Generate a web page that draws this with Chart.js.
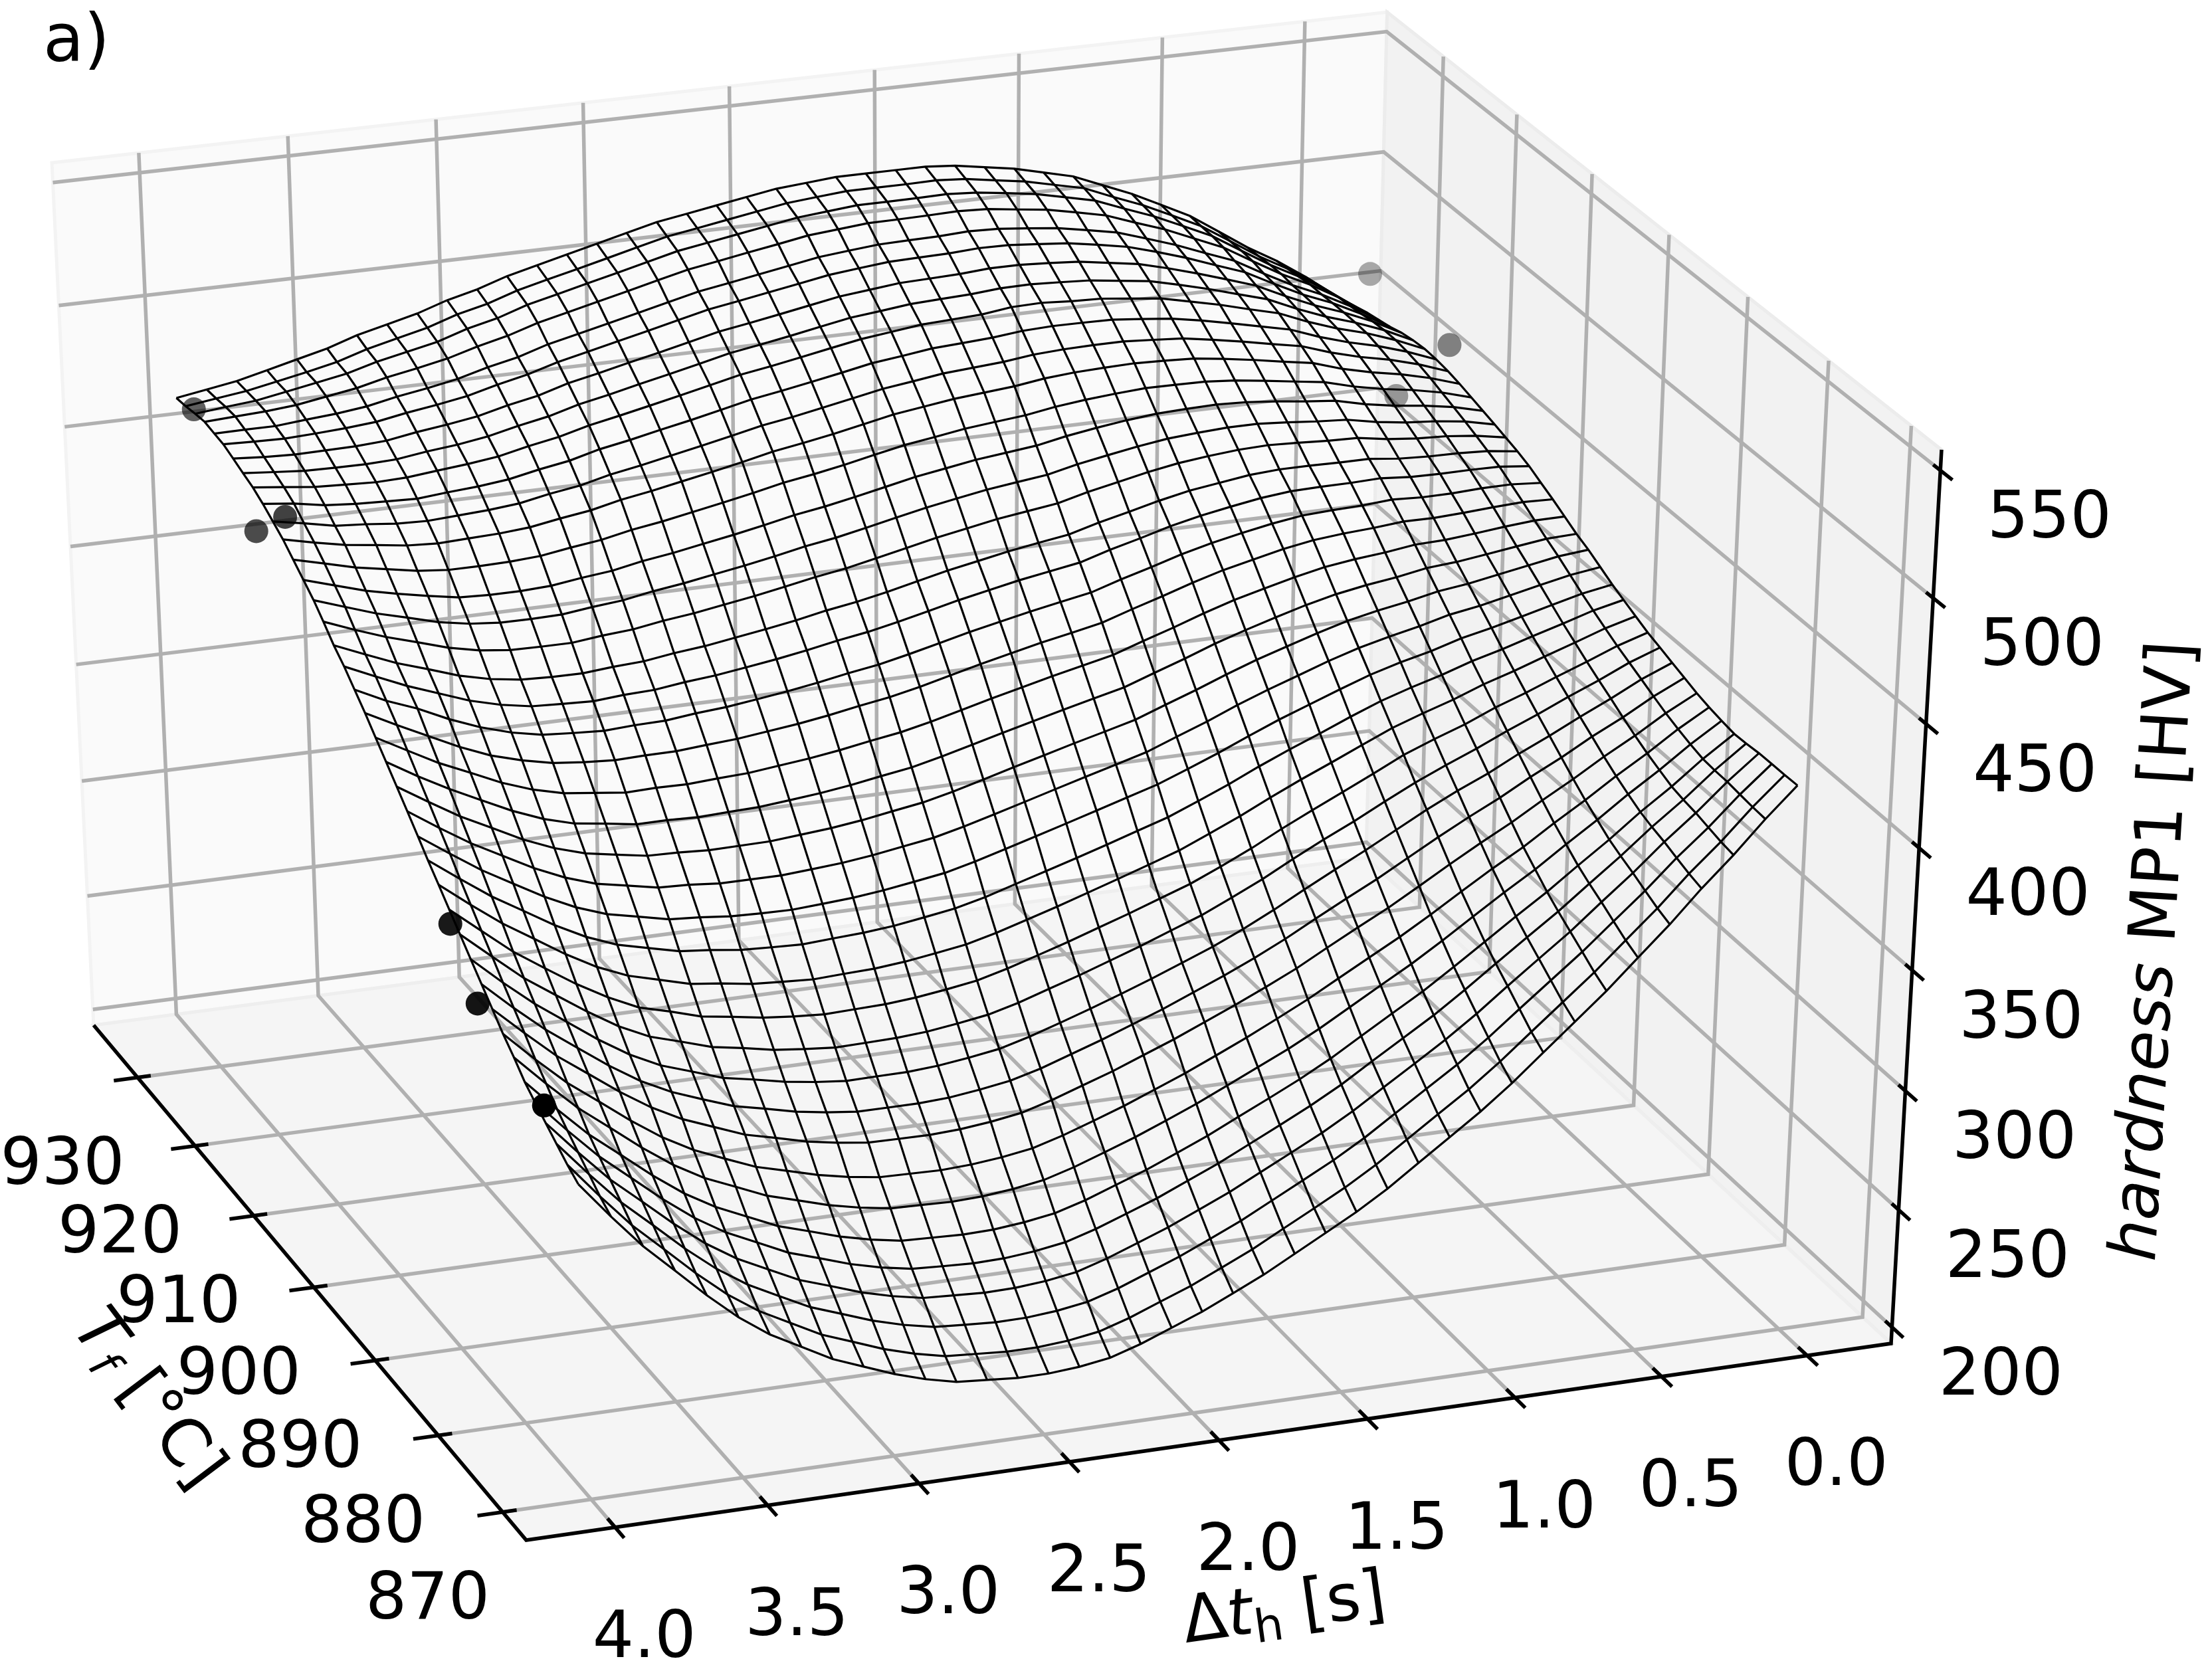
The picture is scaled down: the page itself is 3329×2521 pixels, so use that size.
<!DOCTYPE html>
<html>
<head>
<meta charset="utf-8">
<title>hardness MP1</title>
<script src="https://cdn.jsdelivr.net/npm/chart.js@4/dist/chart.umd.js"></script>
<style>
  html, body { margin: 0; padding: 0; background: #fff; }
  canvas { display: block; }
</style>
</head>
<body>
<canvas id="chart" width="3329" height="2521"></canvas>
<script>
/***** DATA *****/

const dtTicks = [0.0, 0.5, 1.0, 1.5, 2.0, 2.5, 3.0, 3.5, 4.0]
const tempTicks = [870, 880, 890, 900, 910, 920, 930]
const hardTicks = [200, 250, 300, 350, 400, 450, 500, 550]

const dtGrid = [0, 0.103, 0.205, 0.308, 0.41, 0.513, 0.615, 0.718, 0.821, 0.923, 1.026, 1.128, 1.231, 1.333, 1.436, 1.538, 1.641, 1.744, 1.846, 1.949, 2.051, 2.154, 2.256, 2.359, 2.462, 2.564, 2.667, 2.769, 2.872, 2.974, 3.077, 3.179, 3.282, 3.385, 3.487, 3.59, 3.692, 3.795, 3.897, 4]
const tempGrid = [871, 872.6, 874.2, 875.8, 877.4, 878.9, 880.5, 882.1, 883.7, 885.3, 886.9, 888.5, 890.1, 891.7, 893.3, 894.8, 896.4, 898, 899.6, 901.2, 902.8, 904.4, 906, 907.6, 909.2, 910.7, 912.3, 913.9, 915.5, 917.1, 918.7, 920.3, 921.9, 923.5, 925.1, 926.6, 928.2, 929.8, 931.4, 933]

// one row per tempGrid entry, one column per dtGrid entry
const hardness = [
  [417,405,392,380,367,355,343,332,321,310,300,291,282,273,265,258,251,244,238,232,227,222,218,216,215,215,216,217,220,224,229,234,241,248,257,268,280,292,306,321],
  [416.8,405.4,392.9,381.5,369,357.5,346,335.4,324.8,314.2,304.4,295.7,286.9,278.1,270.3,263.4,256.6,249.7,243.8,237.9,233,228,224,222,221,221,221.9,222.8,225.7,229.5,234.4,239.2,246,252.8,261.5,272.2,283.9,295.6,309.3,324],
  [416.8,406,394.2,383.4,371.6,360.7,349.8,339.7,329.6,319.4,309.9,301.5,293,284.5,276.9,270.2,263.5,256.8,251,245.3,240.4,235.5,231.6,229.6,228.5,228.4,229.2,230.1,232.8,236.4,241.1,245.7,252.2,258.8,267.2,277.5,288.9,300.2,313.5,327.7],
  [416.7,406.7,395.6,385.4,374.3,364,353.5,344,334.4,324.6,315.5,307.3,299.1,290.9,283.5,277,270.5,264,258.3,252.7,247.9,243.1,239.2,237.2,236.1,235.9,236.6,237.3,239.9,243.3,247.8,252.1,258.4,264.7,272.8,282.8,293.8,304.7,317.6,331.4],
  [416.2,406.9,396.5,387,376.7,367,357.2,348.2,339,329.8,321,313.1,305.2,297.2,290.1,283.7,277.4,271.1,265.6,260,255.3,250.6,246.8,244.8,243.6,243.3,243.9,244.6,247,250.2,254.5,258.6,264.7,270.7,278.5,288.1,298.7,309.3,321.8,335.2],
  [416,407.4,397.7,388.9,379.2,370.2,361,352.5,343.7,335,326.5,319,311.3,303.6,296.7,290.5,284.4,278.2,272.8,267.4,262.8,258.1,254.4,252.4,251.1,250.8,251.3,251.8,254.1,257.1,261.2,265.1,270.9,276.7,284.1,293.4,303.6,313.8,325.9,338.9],
  [416.9,408.9,400,391.7,382.8,374.4,365.7,357.8,349.5,341.2,333.2,326,318.6,311.3,304.6,298.7,292.7,286.8,281.5,276.3,271.7,267.2,263.5,261.5,260.2,259.7,260.1,260.5,262.6,265.4,269.2,272.9,278.4,283.9,291.1,300.1,310,319.9,331.6,344.2],
  [418,410.7,402.4,394.7,386.4,378.6,370.4,363.1,355.3,347.4,339.8,332.9,325.9,318.9,312.5,306.3,300.5,294.8,289.7,284.6,280.1,275.7,272,270,268.7,268.1,268.4,268.7,270.6,273.2,276.7,280.1,285.3,290.7,297.7,306.4,316,325.5,336.8,349],
  [419.4,412.8,405.2,398.2,390.6,383.5,376,369.2,362,354.6,347.3,340.8,334,327.1,321,315.3,309.8,304.3,299.4,294.4,290.1,285.7,282.1,280.1,278.7,278.1,278.2,278.4,280.1,282.3,285.6,288.7,293.7,298.7,305.3,313.5,322.7,331.9,342.9,354.5],
  [421.3,415.3,408.3,402,395,388.6,381.7,375.4,368.7,361.7,354.6,348.2,341.5,334.7,328.5,322.8,317.5,312.2,307.5,302.8,298.5,294.2,290.8,288.8,287.2,286.5,286.5,286.5,288,290,293,295.8,300.4,305.2,311.5,319.6,328.7,337.9,348.5,360],
  [423.1,417.9,411.6,405.7,399.5,393.7,387.3,381.7,375.5,368.8,362,355.6,349,342.2,335.9,330.2,325.2,320.2,315.6,311.1,306.9,302.8,299.4,297.4,295.8,294.9,294.8,294.6,295.9,297.7,300.4,302.8,307.2,311.5,317.7,325.7,334.7,343.8,354.2,365.5],
  [425,420.4,414.7,409.5,403.9,398.7,393,387.8,382.2,376,369.5,363.5,357.1,350.4,344.4,338.7,334,329.2,324.8,320.4,316.4,312.3,309,307,305.3,304.4,304.1,303.8,304.9,306.3,308.8,310.9,314.9,318.7,324.7,332.5,341,349.7,360.2,371],
  [426.8,422.9,418,413.3,408.4,403.9,398.6,394.1,389.2,383.1,377.1,371.2,365.1,358.6,352.7,347.2,342.7,338.2,334,329.7,325.8,321.9,318.6,316.6,314.9,313.8,313.4,313,313.8,315,317.1,318.9,322.7,326.1,332,339.2,347.4,355.9,366.1,376.5],
  [429.2,425.8,421.5,417.3,413,409.1,404.4,400.3,395.9,390.4,384.8,379.4,373.6,367.5,361.9,356.5,352.2,348,343.9,339.8,336,332.2,329,327,325.2,324,323.5,322.9,323.6,324.4,326.3,327.8,331.2,334.6,339.9,346.9,354.9,362.9,372.2,382.1],
  [431.6,428.8,425,421.4,417.6,414.3,410.2,406.6,402.6,397.7,392.4,387.4,382,376.2,370.9,365.8,361.8,357.7,353.8,350,346.3,342.5,339.4,337.4,335.5,334.3,333.6,332.8,333.3,333.9,335.5,336.7,339.7,342.8,347.7,354.2,361.8,369.4,378.2,387.5],
  [433.9,431.7,428.6,425.4,422.3,419.6,415.9,412.9,409.3,404.9,400.2,395.6,390.4,385,380,375.2,371.4,367.6,363.9,360.2,356.6,353,349.9,347.9,346,344.6,343.7,342.9,343.1,343.5,344.8,345.6,348.4,351.1,355.6,361.6,368.7,375.9,384.3,393],
  [436.8,435.1,432.5,429.8,427.1,425,421.8,419.1,416,412.2,407.8,403.5,398.8,393.6,388.9,384.1,380.6,377.1,373.6,370,366.5,363,360,358,356,354.5,353.5,352.6,352.6,352.6,353.7,354.2,356.7,359.1,363.3,368.9,375.6,382.4,390.3,398.7],
  [439.7,438.5,436.3,434.1,431.9,430.3,427.7,425.5,422.8,419.3,415.4,411.5,407,402.2,397.7,393.1,389.8,386.6,383.2,379.9,376.4,373,370.1,368.1,366,364.4,363.3,362.2,362,361.8,362.5,362.8,364.9,367.1,370.9,376.1,382.5,388.9,396.4,404.3],
  [442,441.5,439.9,438.2,436.6,435.6,433.4,431.7,429.5,426.6,423.1,419.4,415.4,410.8,406.5,402.1,399.1,396,392.9,389.7,386.4,383.1,380.2,378.2,376.1,374.4,373.1,371.9,371.5,370.9,371.4,371.3,373.2,374.9,378.4,383.4,389.4,395.6,402.4,409.9],
  [444.9,444.8,443.8,442.5,441.4,441,439.3,438.1,436.4,433.8,430.7,427.5,423.6,419.3,415.3,411.1,408.3,405.5,402.5,399.5,396.3,393.1,390.3,388.3,386.1,384.3,382.9,381.5,380.9,380.1,380.3,379.9,381.4,382.9,386,390.5,396.2,401.8,408.5,415.4],
  [447.8,448.2,447.6,446.8,446.2,446.3,445.2,444.4,443.2,441.1,438.3,435.5,431.9,427.9,424.1,420.1,417.5,415,412.2,409.3,406.2,403.1,400.4,398.4,396.1,394.2,392.7,391.2,390.3,389.3,389.2,388.8,389.6,390.9,393.6,397.2,402.3,408.4,414.5,421],
  [450.4,451.3,451.2,450.6,450.5,451.1,450.2,449.8,449.1,447.3,445,442.4,439.3,435.6,432.1,428.2,425.9,423.5,420.9,418.2,415.2,412.2,409.5,407.5,405.2,403.2,401.5,399.9,398.9,397.5,397.2,396.5,397.2,398.1,400.6,404.4,409.3,415.2,420,426.1],
  [453.1,454.4,454.6,454.5,454.7,455.7,455.3,455.2,454.9,453.6,451.6,449.4,446.6,443.2,440,436.3,434.2,432.1,429.6,427,424.1,421.2,418.6,416.6,414.2,412.1,410.3,408.6,407.4,405.8,405.3,404.3,404.8,405.4,407.6,410.9,415.5,420.1,425.5,431.2],
  [455.1,456.7,457.3,457.5,458.1,459.5,459.5,459.7,459.7,458.9,457.2,455.5,452.9,449.9,447,443.6,441.7,439.7,437.3,434.9,432.1,429.2,426.7,424.7,422.2,420.1,418.2,416.3,415,413.2,412.5,411.4,411.5,412,413.8,416.8,421,425.1,430.2,435.5],
  [456.7,458.9,460.2,460.8,462,464,464.3,465,465.5,465.1,464,462.6,460.5,457.9,455.3,452.2,450.5,448.8,446.5,444.2,441.5,438.8,436.2,434.2,431.8,429.5,427.5,425.5,424,422,421,419.6,419.6,419.8,421.2,423.9,427.7,431.4,435.9,440.8],
  [458.2,460.9,462.5,463.5,465.2,467.6,468.4,469.5,470.4,470.4,469.7,468.8,467.1,465,462.8,460,458.5,456.9,454.8,452.6,450,447.3,444.8,442.8,440.3,438,435.9,433.8,432.1,429.9,428.7,427.2,426.9,427,428.1,430.3,433.7,437,441.2,445.5],
  [459.7,462.8,464.8,466.3,468.4,471.3,472.5,474,475.2,475.7,475.4,474.9,473.7,472.1,470.2,467.8,466.4,465,463,461,458.4,455.8,453.4,451.4,448.8,446.4,444.2,442,440.2,437.8,436.4,434.7,434.1,434.1,434.6,436.8,439.2,442,445.7,449.5],
  [461.2,464.7,467.2,469.1,471.6,474.9,476.6,478.4,480,481,481.2,481.3,480.5,479.5,478.1,476.1,474.9,473.6,471.7,469.9,467.4,464.8,462.5,460.5,457.8,455.4,453,450.7,448.8,446.2,444.6,442.7,441.9,441.6,441.6,442.8,445,447.2,450.4,453.5],
  [462.7,466.6,469.6,471.9,474.8,478.7,480.7,482.9,484.8,486.4,487,487.4,487.1,486.6,485.6,483.9,482.8,481.7,480,478.3,475.8,473.3,471.1,469.1,466.3,463.8,461.4,459,456.9,454.1,452.3,450.2,449.2,448.7,448.2,448.9,450.6,452.2,454.7,457.5],
  [463.9,468.2,471.6,474.2,477.5,481.6,483.9,486.4,488.6,490.6,491.5,492.3,492.3,492,491.3,489.8,488.9,488,486.3,484.7,482.3,479.9,477.6,475.6,472.9,470.3,467.8,465.3,463.1,460.1,458.2,455.8,454.6,453.9,453.2,453.6,454.9,455.8,458.3,460.6],
  [464.7,469.4,473.2,476.2,479.9,484.4,487.1,489.9,492.5,494.7,496,497.2,497.4,497.5,497,495.7,494.9,494.2,492.6,491.1,488.7,486.4,484.2,482.2,479.4,476.7,474.2,471.6,469.3,466.1,464,461.5,460.1,459.2,458.1,458.5,459,460,462.2,463.6],
  [465,470.2,474.5,477.9,482.1,487.1,490.2,493.5,496.3,499,500.4,501.8,502.2,503,502.7,501.1,500.5,499.9,498.4,496.9,494.7,492.4,490.2,488.2,485.4,482.7,480,477.4,474.9,471.7,469.4,466.7,465.1,463.9,462.6,462.2,462.7,463.3,464.7,466.1],
  [464.6,470.3,474.9,478.8,483.5,488.9,492.4,496,499.2,502.1,503.7,505.3,506,506.6,506.4,505.4,504.9,504.3,502.9,501.6,499.4,497.1,495,493,490.1,487.4,484.7,481.9,479.4,476,473.6,470.8,468.9,467.6,465.9,465.4,465.5,465.7,466.7,467.8],
  [463.7,469.9,475.1,479.5,484.7,490.5,494.5,498.4,502,505.2,507.1,509,509.9,510.6,510.6,509.7,509.3,508.9,507.6,506.3,504.1,501.9,499.8,497.8,494.9,492.1,489.4,486.6,484,480.4,477.9,474.9,473,471.4,469.4,468.6,468.4,468.2,468.7,469.6],
  [462.2,469.1,475,479.9,485.8,492.1,496.4,500.9,504.8,508.3,510.6,512.6,513.7,514.7,514.9,514.2,513.9,513.6,512.4,511.1,509,506.9,504.8,502.8,499.9,497,494.2,491.4,488.6,485,482.3,479.1,477,475.2,473,471.9,471.2,470.6,470.9,471.3],
  [461.2,468.5,474.8,480.1,486.4,493.1,497.7,502.5,506.6,510.5,512.9,515.1,516.5,517.7,518.1,517.5,517.3,517,515.9,514.7,512.6,510.5,508.4,506.4,503.5,500.6,497.7,494.9,492.1,488.3,485.6,482.3,480,478,475.5,474,473,471.9,471.9,471.8],
  [460.2,468.1,474.9,480.8,487.6,494.7,499.8,505,509.2,513.6,516.3,518.8,520.3,521.9,522.4,522.1,521.9,521.8,520.7,519.6,517.5,515.5,513.4,511.4,508.5,505.5,502.6,499.7,496.8,493,490.1,486.6,484.1,481.8,478.9,476.9,474.9,473.8,473.2,472.5],
  [458.6,467,474.3,480.7,488,495.5,501,506.5,511.1,515.8,518.6,521.3,523.1,524.7,525.5,525.3,525.2,525.2,524.1,523,521,519,517,515,512,509,506.1,503.1,500.2,496.2,493.3,489.4,486.8,484.2,480.8,478.5,476.3,474.1,473,471.7],
  [457.3,466,473.6,480.3,488,495.7,501.5,507.2,512,517,519.8,522.6,524.5,526.4,527.3,527.1,527.1,527.1,526.1,525,523,521,519,517,514,511,508,505.1,502.1,498.1,495.2,491.2,488.3,485.3,481.5,478.8,476.4,474,472.4,470.7],
  [456,465,473,480,488,496,502,508,513,518,521,524,526,528,529,529,529,529,528,527,525,523,521,519,516,513,510,507,504,500,497,493,490,487,483,480,477,474,472,470]
]

// measured samples
const sampleDt = [0, 0, 0, 4, 4, 4, 4, 4, 4]
const sampleTemp = [928, 924, 917, 930, 920, 915, 890, 886, 876]
const sampleHard = [477, 436, 475, 473, 449, 468, 371, 350, 338]
const sampleAlpha = [0.33, 0.38, 0.47, 0.62, 0.7, 0.74, 0.9, 0.92, 1]

/***** AXIS BOX *****/

const dtLim = [-0.29, 4.29]
const tempLim = [866.4, 937.8]
const hardLim = [193, 558]

// perspective of the box, unit cube -> canvas pixels
const PROJ = [
  [-2077.7, -619.9, -70.1, 2846],
  [226.8, -624.2, -1378.9, 2022],
  [-0.02987, 0.08274, -0.05, 1]
]

const unit = (val, lim) => (val - lim[0]) / (lim[1] - lim[0])

const toCanvas = (u, v, w) => {
  const h = PROJ[2][0] * u + PROJ[2][1] * v + PROJ[2][2] * w + PROJ[2][3]
  return {
    x: (PROJ[0][0] * u + PROJ[0][1] * v + PROJ[0][2] * w + PROJ[0][3]) / h,
    y: (PROJ[1][0] * u + PROJ[1][1] * v + PROJ[1][2] * w + PROJ[1][3]) / h
  }
}

const project = (dt, temp, hard) => toCanvas(unit(dt, dtLim), unit(temp, tempLim), unit(hard, hardLim))

/***** DATASETS *****/

const datasets = []

const addLine = (points, color, width) => {
  datasets.push({
    data: points,
    showLine: true,
    borderColor: color,
    borderWidth: width,
    pointRadius: 0,
    tension: 0,
    fill: false
  })
}

const addPane = (corners, fillColor, edgeColor) => {
  datasets.push({
    data: corners.map((c) => toCanvas(c[0], c[1], c[2])),
    showLine: true,
    borderColor: edgeColor,
    borderWidth: 5,
    backgroundColor: fillColor,
    pointRadius: 0,
    tension: 0,
    fill: 'shape'
  })
}

addPane([[1, 1, 0], [0, 1, 0], [0, 1, 1], [1, 1, 1], [1, 1, 0]], '#fafafa', '#f3f3f3')
addPane([[0, 1, 0], [0, 0, 0], [0, 0, 1], [0, 1, 1], [0, 1, 0]], '#f2f2f2', '#ececec')
addPane([[1, 0, 0], [0, 0, 0], [0, 1, 0], [1, 1, 0], [1, 0, 0]], '#f5f5f5', '#eeeeee')

const GRID = '#b0b0b0'
dtTicks.forEach((t) => {
  const u = unit(t, dtLim)
  addLine([toCanvas(u, 0, 0), toCanvas(u, 1, 0), toCanvas(u, 1, 1)], GRID, 5.5)
})
tempTicks.forEach((T) => {
  const v = unit(T, tempLim)
  addLine([toCanvas(1, v, 0), toCanvas(0, v, 0), toCanvas(0, v, 1)], GRID, 5.5)
})
hardTicks.forEach((z) => {
  const w = unit(z, hardLim)
  addLine([toCanvas(1, 1, w), toCanvas(0, 1, w), toCanvas(0, 0, w)], GRID, 5.5)
})

// samples behind the mesh
sampleDt.forEach((t, k) => {
  datasets.push({
    data: [project(t, sampleTemp[k], sampleHard[k])],
    pointRadius: 18,
    pointBorderWidth: 0,
    pointBackgroundColor: 'rgba(0,0,0,' + sampleAlpha[k] + ')'
  })
})

// wireframe
tempGrid.forEach((T, j) => {
  addLine(dtGrid.map((t, i) => project(t, T, hardness[j][i])), '#000', 3.2)
})
dtGrid.forEach((t, i) => {
  addLine(tempGrid.map((T, j) => project(t, T, hardness[j][i])), '#000', 3.2)
})

// axis lines and ticks
addLine([toCanvas(1, 1, 0), toCanvas(1, 0, 0), toCanvas(0, 0, 0), toCanvas(0, 0, 1)], '#000', 5.5)
dtTicks.forEach((t) => {
  const u = unit(t, dtLim)
  addLine([toCanvas(u, 0.016, 0), toCanvas(u, -0.019, 0)], '#000', 5.5)
})
tempTicks.forEach((T) => {
  const v = unit(T, tempLim)
  addLine([toCanvas(0.99, v, 0), toCanvas(1.018, v, 0)], '#000', 5.5)
})
hardTicks.forEach((z) => {
  const w = unit(z, hardLim)
  addLine([toCanvas(0, 0.012, w), toCanvas(0, -0.02, w)], '#000', 5.5)
})

// later datasets paint on top
datasets.forEach((d, k) => { d.order = datasets.length - k })

/***** TEXT *****/

const FONT = '"DejaVu Sans"'
const SIZE = 98

// pieces: [text, font style, scale, baseline shift]
const drawPieces = (ctx, pieces, cx, cy, degrees) => {
  ctx.save()
  ctx.translate(cx, cy)
  ctx.rotate(degrees * Math.PI / 180)
  ctx.textAlign = 'left'
  ctx.textBaseline = 'alphabetic'
  let total = 0
  pieces.forEach((p) => {
    ctx.font = p[1] + ' ' + (SIZE * p[2]) + 'px ' + FONT
    total += ctx.measureText(p[0]).width
  })
  let pos = -total / 2
  pieces.forEach((p) => {
    ctx.font = p[1] + ' ' + (SIZE * p[2]) + 'px ' + FONT
    ctx.fillText(p[0], pos, SIZE * 0.36 + p[3])
    pos += ctx.measureText(p[0]).width
  })
  ctx.restore()
}

const labelsPlugin = {
  id: 'labels3d',
  afterDraw: (chart) => {
    const ctx = chart.ctx
    ctx.fillStyle = '#000'
    dtTicks.forEach((t) => {
      const p = toCanvas(unit(t, dtLim), 0, 0)
      drawPieces(ctx, [[t.toFixed(1), 'normal', 1, 0]], p.x + 44, p.y + 160, 0)
    })
    tempTicks.forEach((T) => {
      const p = toCanvas(1, unit(T, tempLim), 0)
      drawPieces(ctx, [[String(T), 'normal', 1, 0]], p.x - 113, p.y + 125, 0)
    })
    hardTicks.forEach((z) => {
      const p = toCanvas(0, 0, unit(z, hardLim))
      drawPieces(ctx, [[String(z), 'normal', 1, 0]], p.x + 164, p.y + 66, 0)
    })
    drawPieces(ctx, [['hardness', 'italic', 1, 0], [' MP1 [HV]', 'normal', 1, 0]], 3236, 1431, -86.5)
    drawPieces(ctx, [['T', 'italic', 1, 0], ['f', 'italic', 0.7, 15], [' [°C]', 'normal', 1, 0]], 228, 2102, 53)
    drawPieces(ctx, [['Δ', 'normal', 1, 0], ['t', 'italic', 1, 0], ['h', 'normal', 0.7, 15], [' [s]', 'normal', 1, 0]], 1932, 2416, -8)
    ctx.font = '100px ' + FONT
    ctx.textAlign = 'left'
    ctx.textBaseline = 'alphabetic'
    ctx.fillText('a)', 65, 92)
  }
}

/***** CHART *****/

new Chart(document.getElementById('chart'), {
  type: 'scatter',
  data: { datasets: datasets },
  plugins: [labelsPlugin],
  options: {
    responsive: false,
    devicePixelRatio: 1,
    animation: false,
    layout: { padding: 0, autoPadding: false },
    plugins: { legend: { display: false }, tooltip: { enabled: false } },
    scales: {
      x: { type: 'linear', display: false, min: 0, max: 3329 },
      y: { type: 'linear', display: false, min: 0, max: 2521, reverse: true }
    }
  }
})
</script>
</body>
</html>
